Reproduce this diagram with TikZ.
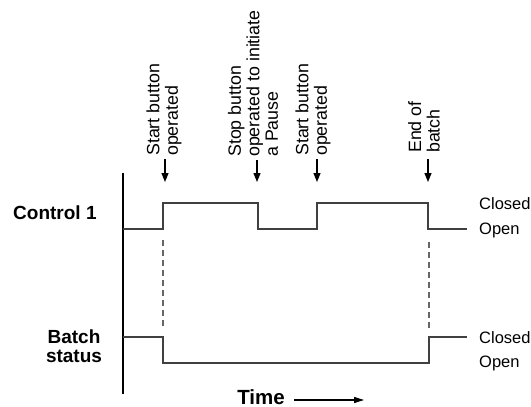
\documentclass[tikz,border=0pt]{standalone}
\usepackage{fontspec}
\setmainfont{Liberation Sans}
\usetikzlibrary{arrows.meta}
\begin{document}
\begin{tikzpicture}[x=1pt,y=-1pt,
  sig/.style={draw=black!75, line width=1.3pt},
  axisline/.style={draw=black, line width=2.4pt},
  dashline/.style={draw=black!60, line width=1.3pt, dash pattern=on 6pt off 4pt},
  evarrow/.style={draw=black, line width=1.2pt, -{Triangle[length=9pt,width=7pt]}},
  evtext/.style={rotate=90, anchor=west, align=left, inner sep=0pt, font=\fontsize{17.8}{18.5}\selectfont},
  lvl/.style={anchor=west, inner sep=0pt, font=\fontsize{16.5}{18}\selectfont},
  bold/.style={inner sep=0pt, font=\fontsize{19}{20}\selectfont\bfseries}]
\useasboundingbox (0,0) rectangle (531,407);

% axis
\coordinate (axT) at (123,173);
\coordinate (axB) at (123,394);
\draw[axisline] (axT) -- (axB);

% Control 1 signal
\coordinate (c0) at (123,229);
\coordinate (c1) at (163,229);
\coordinate (c2) at (163,203);
\coordinate (c3) at (258,203);
\coordinate (c4) at (258,229);
\coordinate (c5) at (317,229);
\coordinate (c6) at (317,203);
\coordinate (c7) at (428,203);
\coordinate (c8) at (428,229);
\coordinate (c9) at (467,229);
\draw[sig] (c0) -- (c1) -- (c2) -- (c3) -- (c4) -- (c5) -- (c6) -- (c7) -- (c8) -- (c9);

% Batch status signal
\coordinate (b0) at (123,337);
\coordinate (b1) at (163,337);
\coordinate (b2) at (163,363);
\coordinate (b3) at (429,363);
\coordinate (b4) at (429,337);
\coordinate (b5) at (467,337);
\draw[sig] (b0) -- (b1) -- (b2) -- (b3) -- (b4) -- (b5);

% dashed links
\coordinate (d1t) at (163,240);
\coordinate (d1b) at (163,328);
\coordinate (d2t) at (429,242);
\coordinate (d2b) at (429,328);
\draw[dashline] (d1t) -- (d1b);
\draw[dashline] (d2t) -- (d2b);

% row labels
\node[bold, anchor=west] (ctl) at (13,213) {Control 1};
\node[bold, align=center] (bst) at (74,346) {Batch\\[-1pt]status};

% level labels
\node[lvl] (cl1) at (479,204) {Closed};
\node[lvl] (op1) at (479,230) {Open};
\node[lvl] (cl2) at (479,338) {Closed};
\node[lvl] (op2) at (479,363) {Open};

% event labels and arrows
\node[evtext] (e1) at (164,156) {Start button\\operated};
\node[evtext] (e2) at (253,157) {Stop button\\operated to initiate\\a Pause};
\node[evtext] (e3) at (313,156) {Start button\\operated};
\node[evtext] (e4) at (424,153) {End of\\batch};

\coordinate (a1s) at (165,159);
\coordinate (a1e) at (165,182);
\coordinate (a2s) at (257,160);
\coordinate (a2e) at (257,182);
\coordinate (a3s) at (317,159);
\coordinate (a3e) at (317,182);
\coordinate (a4s) at (428,159);
\coordinate (a4e) at (428,182);
\draw[evarrow] (a1s) -- (a1e);
\draw[evarrow] (a2s) -- (a2e);
\draw[evarrow] (a3s) -- (a3e);
\draw[evarrow] (a4s) -- (a4e);

% time axis label
\node[bold, anchor=base, font=\fontsize{20.5}{21}\selectfont\bfseries] (time) at (261,404) {Time};
\coordinate (ts) at (294,400);
\coordinate (te) at (364,400);
\draw[draw=black, line width=1.1pt, -{Triangle[length=10pt,width=6pt]}] (ts) -- (te);
\end{tikzpicture}
\end{document}
